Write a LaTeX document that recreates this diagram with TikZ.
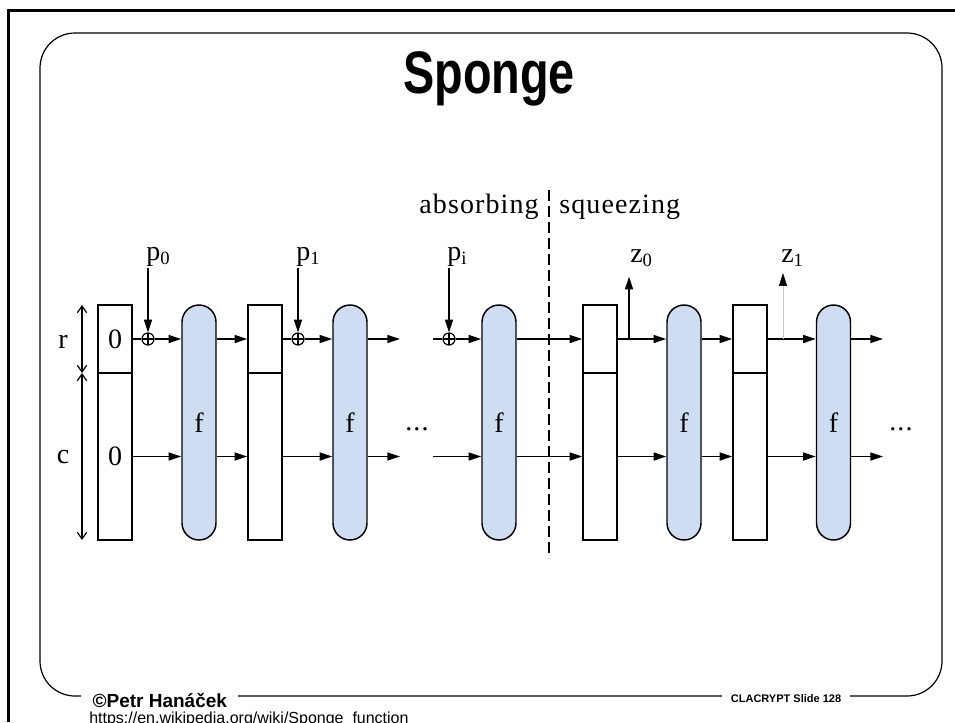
\documentclass[tikz,border=0pt]{standalone}
\usepackage{fontspec}
\setmainfont[LetterSpace=4]{Liberation Serif}
\newfontfamily\sansfont{Liberation Sans}
\newfontfamily\titlefont[FakeStretch=0.78]{Liberation Sans}
\usetikzlibrary{arrows.meta}
\definecolor{fblue}{RGB}{206,221,242}
\newcommand{\lowidx}[1]{\raisebox{-0.15em}{\fontsize{14}{16}\selectfont #1}}
\tikzset{
  stbox/.style={draw, line width=1.1pt, minimum width=25.5pt, inner sep=0pt, font=\fontsize{21}{25}\selectfont},
  rpart/.style={stbox, minimum height=51pt},
  cpart/.style={stbox, minimum height=125.25pt},
  fbox/.style={draw, line width=1.1pt, fill=fblue, rounded corners=12.75pt, minimum width=25.5pt, minimum height=176.25pt, inner sep=0pt, font=\fontsize{21}{25}\selectfont},
  xor/.style={circle, draw, line width=0.9pt, minimum size=9pt, inner sep=0pt,
    path picture={\draw[line width=0.9pt] (path picture bounding box.north) -- (path picture bounding box.south) (path picture bounding box.west) -- (path picture bounding box.east);}},
  wire/.style={line width=1.1pt},
  flow/.style={wire, -{Triangle[length=9.5pt,width=6pt]}},
  faint/.style={line width=0.4pt, gray!45, -{Triangle[length=9.5pt,width=6pt,color=black]}},
  dim/.style={line width=0.9pt, {Straight Barb[length=5pt,width=7pt]}-{Straight Barb[length=5pt,width=7pt]}},
  divider/.style={line width=0.9pt, dash pattern=on 8pt off 4pt},
  lbl/.style={font=\fontsize{21}{25}\selectfont, inner sep=1.5pt},
}
\begin{document}
\begin{tikzpicture}[x=0.75pt, y=-0.75pt]%
\useasboundingbox (0, 0) rectangle (955, 722);%
\draw[line width=2.25pt] (8, 722) -- (8, 10) -- (955, 10);%
\draw[line width=0.9pt, rounded corners=26.25pt] (40, 33) rectangle (942, 696);%
\node[font=\titlefont\bfseries\fontsize{45}{50}\selectfont, anchor=base] (title) at (489, 93) {Sponge};%
\node[font=\sansfont\bfseries\fontsize{14.25}{16}\selectfont, fill=white, inner xsep=8.5pt, anchor=base west] (author) at (81, 707) {\textcopyright Petr Hanáček};%
\node[font=\sansfont\bfseries\fontsize{8.25}{10}\selectfont, fill=white, inner xsep=6.75pt, anchor=base] (slide) at (786, 702) {CLACRYPT Slide 128};%
\node[font=\sansfont\fontsize{12}{14}\selectfont, inner sep=0pt, anchor=base west] (url) at (89, 723) {https://en.wikipedia.org/wiki/Sponge\_function};%
%
\coordinate (dt) at (82, 305);%
\coordinate (dm) at (82, 373);%
\coordinate (db) at (82, 540);%
\draw[dim] (dt) -- (dm);%
\draw[dim] (dm) -- (db);%
\node[lbl, anchor=base] (rlbl) at (63, 348) {r};%
\node[lbl, anchor=base] (clbl) at (63, 463) {c};%
%
\node[rpart] (s1r) at (115, 339) {0};%
\node[cpart] (s1c) at (115, 456.5) {0};%
\node[rpart] (s2r) at (265, 339) {};%
\node[cpart] (s2c) at (265, 456.5) {};%
\node[rpart] (s3r) at (600, 339) {};%
\node[cpart] (s3c) at (600, 456.5) {};%
\node[rpart] (s4r) at (750, 339) {};%
\node[cpart] (s4c) at (750, 456.5) {};%
%
\node[fbox] (f1) at (199, 422.5) {f};%
\node[fbox] (f2) at (350, 422.5) {f};%
\node[fbox] (f3) at (499, 422.5) {f};%
\node[fbox] (f4) at (684, 422.5) {f};%
\node[fbox] (f5) at (833.5, 422.5) {f};%
%
\node[xor] (x1) at (148, 339) {};%
\node[xor] (x2) at (298, 339) {};%
\node[xor] (x3) at (449, 339) {};%
%
\node[lbl, anchor=base west] (p0) at (144, 260) {p\lowidx{0}};%
\node[lbl, anchor=base west] (p1) at (294, 260) {p\lowidx{1}};%
\node[lbl, anchor=base west] (pi) at (445, 260) {p\lowidx{i}};%
\node[lbl, anchor=base west] (z0) at (628, 262) {z\lowidx{0}};%
\node[lbl, anchor=base west] (z1) at (779, 262) {z\lowidx{1}};%
\node[lbl, anchor=base] (dots1) at (417, 430) {...};%
\node[lbl, anchor=base] (dots2) at (901, 430) {...};%
\node[lbl, anchor=base east] (absorb) at (541, 213) {absorbing};%
\node[lbl, anchor=base west] (squeeze) at (557, 213) {squeezing};%
%
\coordinate (dvt) at (549, 190);%
\coordinate (dvb) at (549, 558);%
\draw[divider] (dvt) -- (dvb);%
%
\draw[flow] (x1 |- p0.south) -- (x1);%
\draw[flow] (x2 |- p1.south) -- (x2);%
\draw[flow] (x3 |- pi.south) -- (x3);%
%
\draw[wire] (s1r) -- (x1);%
\draw[flow] (x1) -- (x1 -| f1.west);%
\draw[flow] (s1c) -- (s1c -| f1.west);%
\draw[flow] (f1.east |- s1r) -- (s2r);%
\draw[flow] (f1.east |- s1c) -- (s2c);%
\draw[wire] (s2r) -- (x2);%
\draw[flow] (x2) -- (x2 -| f2.west);%
\draw[flow] (s2c) -- (s2c -| f2.west);%
\coordinate (o2r) at (400, 339);%
\coordinate (o2c) at (400, 456.5);%
\draw[flow] (f2.east |- o2r) -- (o2r);%
\draw[flow] (f2.east |- o2c) -- (o2c);%
%
\coordinate (i3r) at (433, 339);%
\coordinate (i3c) at (433, 456.5);%
\draw[wire] (i3r) -- (x3);%
\draw[flow] (x3) -- (x3 -| f3.west);%
\draw[flow] (i3c) -- (i3c -| f3.west);%
\draw[flow] (f3.east |- s3r) -- (s3r);%
\draw[flow] (f3.east |- s3c) -- (s3c);%
\draw[flow] (s3r) -- (s3r -| f4.west);%
\draw[flow] (s3c) -- (s3c -| f4.west);%
\coordinate (b0) at (629, 339);%
\draw[flow, shorten >=6pt] (b0) -- (b0 |- z0.south);%
%
\draw[flow] (f4.east |- s4r) -- (s4r);%
\draw[flow] (f4.east |- s4c) -- (s4c);%
\draw[flow] (s4r) -- (s4r -| f5.west);%
\draw[flow] (s4c) -- (s4c -| f5.west);%
\coordinate (b1) at (783, 339);%
\draw[faint, shorten >=3.5pt] (b1) -- (b1 |- z1.south);%
\coordinate (o5r) at (883, 339);%
\coordinate (o5c) at (883, 456.5);%
\draw[flow] (f5.east |- o5r) -- (o5r);%
\draw[flow] (f5.east |- o5c) -- (o5c);%
\end{tikzpicture}
\end{document}
